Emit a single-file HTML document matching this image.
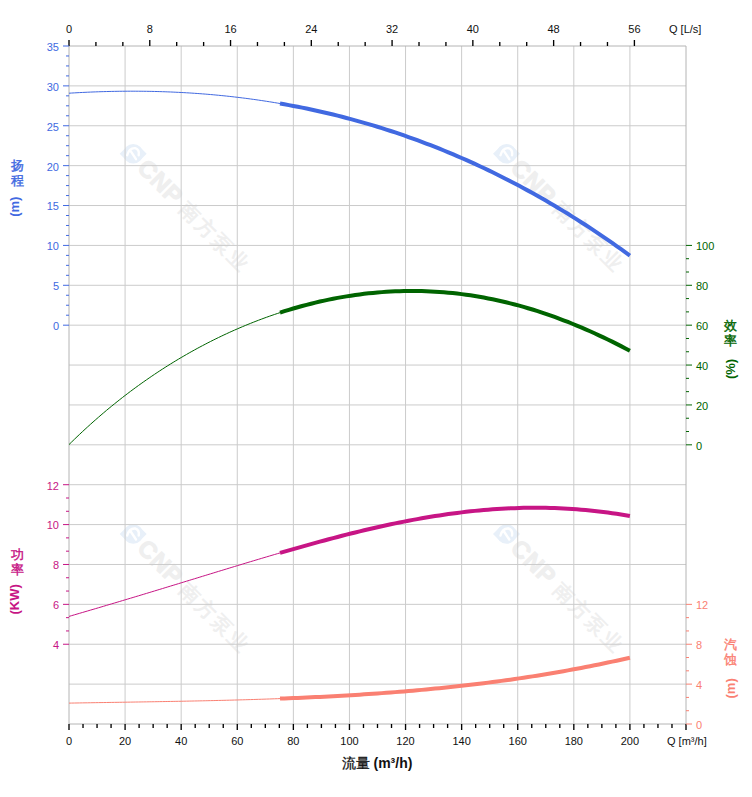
<!DOCTYPE html>
<html><head><meta charset="utf-8"><style>
html,body{margin:0;padding:0;background:#fff;}
body{width:752px;height:797px;overflow:hidden;}
svg{display:block;}
text{font-family:"Liberation Sans",sans-serif;}
</style></head><body>
<svg width="752" height="797" viewBox="0 0 752 797">
<rect width="752" height="797" fill="#fff"/>

<g transform="translate(133.2,153.7)"><circle r="9.8" fill="#e8f0f9"/><path d="M-13.5,0 L-7,-6.5 L7,-6.5 L13.5,0 L7,6.5 L-7,6.5Z" fill="#e8f0f9"/><path d="M-6,1.5 Q-4,-6 2,-5.5 Q6.5,-4 5.5,1.5 M-2.5,-2.5 L2.8,5.5" fill="none" stroke="#fff" stroke-width="2.4" stroke-linecap="round"/><g transform="rotate(45)"><text x="13" y="9" font-size="24" font-weight="bold" fill="#efefef" stroke="#efefef" stroke-width="1" letter-spacing="0.5">CNP</text><text x="72" y="8" font-size="20" fill="#efefef" stroke="#efefef" stroke-width="0.7" letter-spacing="2.6">南方泵业</text></g></g>
<g transform="translate(506.5,153.7)"><circle r="9.8" fill="#e8f0f9"/><path d="M-13.5,0 L-7,-6.5 L7,-6.5 L13.5,0 L7,6.5 L-7,6.5Z" fill="#e8f0f9"/><path d="M-6,1.5 Q-4,-6 2,-5.5 Q6.5,-4 5.5,1.5 M-2.5,-2.5 L2.8,5.5" fill="none" stroke="#fff" stroke-width="2.4" stroke-linecap="round"/><g transform="rotate(45)"><text x="13" y="9" font-size="24" font-weight="bold" fill="#efefef" stroke="#efefef" stroke-width="1" letter-spacing="0.5">CNP</text><text x="72" y="8" font-size="20" fill="#efefef" stroke="#efefef" stroke-width="0.7" letter-spacing="2.6">南方泵业</text></g></g>
<g transform="translate(133.2,534)"><circle r="9.8" fill="#e8f0f9"/><path d="M-13.5,0 L-7,-6.5 L7,-6.5 L13.5,0 L7,6.5 L-7,6.5Z" fill="#e8f0f9"/><path d="M-6,1.5 Q-4,-6 2,-5.5 Q6.5,-4 5.5,1.5 M-2.5,-2.5 L2.8,5.5" fill="none" stroke="#fff" stroke-width="2.4" stroke-linecap="round"/><g transform="rotate(45)"><text x="13" y="9" font-size="24" font-weight="bold" fill="#efefef" stroke="#efefef" stroke-width="1" letter-spacing="0.5">CNP</text><text x="72" y="8" font-size="20" fill="#efefef" stroke="#efefef" stroke-width="0.7" letter-spacing="2.6">南方泵业</text></g></g>
<g transform="translate(506.5,534)"><circle r="9.8" fill="#e8f0f9"/><path d="M-13.5,0 L-7,-6.5 L7,-6.5 L13.5,0 L7,6.5 L-7,6.5Z" fill="#e8f0f9"/><path d="M-6,1.5 Q-4,-6 2,-5.5 Q6.5,-4 5.5,1.5 M-2.5,-2.5 L2.8,5.5" fill="none" stroke="#fff" stroke-width="2.4" stroke-linecap="round"/><g transform="rotate(45)"><text x="13" y="9" font-size="24" font-weight="bold" fill="#efefef" stroke="#efefef" stroke-width="1" letter-spacing="0.5">CNP</text><text x="72" y="8" font-size="20" fill="#efefef" stroke="#efefef" stroke-width="0.7" letter-spacing="2.6">南方泵业</text></g></g>
<g stroke="#cbcbcb" stroke-width="1"><line x1="69.0" y1="85.88" x2="686.0" y2="85.88"/><line x1="69.0" y1="125.76" x2="686.0" y2="125.76"/><line x1="69.0" y1="165.65" x2="686.0" y2="165.65"/><line x1="69.0" y1="205.53" x2="686.0" y2="205.53"/><line x1="69.0" y1="245.41" x2="686.0" y2="245.41"/><line x1="69.0" y1="285.29" x2="686.0" y2="285.29"/><line x1="69.0" y1="325.18" x2="686.0" y2="325.18"/><line x1="69.0" y1="365.06" x2="686.0" y2="365.06"/><line x1="69.0" y1="404.94" x2="686.0" y2="404.94"/><line x1="69.0" y1="444.82" x2="686.0" y2="444.82"/><line x1="69.0" y1="484.71" x2="686.0" y2="484.71"/><line x1="69.0" y1="524.59" x2="686.0" y2="524.59"/><line x1="69.0" y1="564.47" x2="686.0" y2="564.47"/><line x1="69.0" y1="604.35" x2="686.0" y2="604.35"/><line x1="69.0" y1="644.24" x2="686.0" y2="644.24"/><line x1="69.0" y1="684.12" x2="686.0" y2="684.12"/><line x1="125.09" y1="46.0" x2="125.09" y2="724.0"/><line x1="181.18" y1="46.0" x2="181.18" y2="724.0"/><line x1="237.27" y1="46.0" x2="237.27" y2="724.0"/><line x1="293.36" y1="46.0" x2="293.36" y2="724.0"/><line x1="349.45" y1="46.0" x2="349.45" y2="724.0"/><line x1="405.55" y1="46.0" x2="405.55" y2="724.0"/><line x1="461.64" y1="46.0" x2="461.64" y2="724.0"/><line x1="517.73" y1="46.0" x2="517.73" y2="724.0"/><line x1="573.82" y1="46.0" x2="573.82" y2="724.0"/><line x1="629.91" y1="46.0" x2="629.91" y2="724.0"/></g>
<g stroke="#b4b4b4" stroke-width="1"><line x1="69.0" y1="46.00" x2="686.0" y2="46.00"/><line x1="69.0" y1="724.00" x2="686.0" y2="724.00"/><line x1="69.00" y1="46.0" x2="69.00" y2="724.0"/><line x1="686.00" y1="46.0" x2="686.00" y2="724.0"/></g>
<g stroke="#000" stroke-width="1.35"><line x1="69.00" y1="40.0" x2="69.00" y2="46.0"/><line x1="95.92" y1="42.0" x2="95.92" y2="46.0"/><line x1="122.85" y1="42.0" x2="122.85" y2="46.0"/><line x1="149.77" y1="40.0" x2="149.77" y2="46.0"/><line x1="176.69" y1="42.0" x2="176.69" y2="46.0"/><line x1="203.62" y1="42.0" x2="203.62" y2="46.0"/><line x1="230.54" y1="40.0" x2="230.54" y2="46.0"/><line x1="257.47" y1="42.0" x2="257.47" y2="46.0"/><line x1="284.39" y1="42.0" x2="284.39" y2="46.0"/><line x1="311.31" y1="40.0" x2="311.31" y2="46.0"/><line x1="338.24" y1="42.0" x2="338.24" y2="46.0"/><line x1="365.16" y1="42.0" x2="365.16" y2="46.0"/><line x1="392.08" y1="40.0" x2="392.08" y2="46.0"/><line x1="419.01" y1="42.0" x2="419.01" y2="46.0"/><line x1="445.93" y1="42.0" x2="445.93" y2="46.0"/><line x1="472.85" y1="40.0" x2="472.85" y2="46.0"/><line x1="499.78" y1="42.0" x2="499.78" y2="46.0"/><line x1="526.70" y1="42.0" x2="526.70" y2="46.0"/><line x1="553.63" y1="40.0" x2="553.63" y2="46.0"/><line x1="580.55" y1="42.0" x2="580.55" y2="46.0"/><line x1="607.47" y1="42.0" x2="607.47" y2="46.0"/><line x1="634.40" y1="40.0" x2="634.40" y2="46.0"/></g>
<g stroke="#000" stroke-width="1.35"><line x1="69.00" y1="724.0" x2="69.00" y2="730.0"/><line x1="83.02" y1="724.0" x2="83.02" y2="728.0"/><line x1="97.05" y1="724.0" x2="97.05" y2="728.0"/><line x1="111.07" y1="724.0" x2="111.07" y2="728.0"/><line x1="125.09" y1="724.0" x2="125.09" y2="730.0"/><line x1="139.11" y1="724.0" x2="139.11" y2="728.0"/><line x1="153.14" y1="724.0" x2="153.14" y2="728.0"/><line x1="167.16" y1="724.0" x2="167.16" y2="728.0"/><line x1="181.18" y1="724.0" x2="181.18" y2="730.0"/><line x1="195.20" y1="724.0" x2="195.20" y2="728.0"/><line x1="209.23" y1="724.0" x2="209.23" y2="728.0"/><line x1="223.25" y1="724.0" x2="223.25" y2="728.0"/><line x1="237.27" y1="724.0" x2="237.27" y2="730.0"/><line x1="251.30" y1="724.0" x2="251.30" y2="728.0"/><line x1="265.32" y1="724.0" x2="265.32" y2="728.0"/><line x1="279.34" y1="724.0" x2="279.34" y2="728.0"/><line x1="293.36" y1="724.0" x2="293.36" y2="730.0"/><line x1="307.39" y1="724.0" x2="307.39" y2="728.0"/><line x1="321.41" y1="724.0" x2="321.41" y2="728.0"/><line x1="335.43" y1="724.0" x2="335.43" y2="728.0"/><line x1="349.45" y1="724.0" x2="349.45" y2="730.0"/><line x1="363.48" y1="724.0" x2="363.48" y2="728.0"/><line x1="377.50" y1="724.0" x2="377.50" y2="728.0"/><line x1="391.52" y1="724.0" x2="391.52" y2="728.0"/><line x1="405.55" y1="724.0" x2="405.55" y2="730.0"/><line x1="419.57" y1="724.0" x2="419.57" y2="728.0"/><line x1="433.59" y1="724.0" x2="433.59" y2="728.0"/><line x1="447.61" y1="724.0" x2="447.61" y2="728.0"/><line x1="461.64" y1="724.0" x2="461.64" y2="730.0"/><line x1="475.66" y1="724.0" x2="475.66" y2="728.0"/><line x1="489.68" y1="724.0" x2="489.68" y2="728.0"/><line x1="503.70" y1="724.0" x2="503.70" y2="728.0"/><line x1="517.73" y1="724.0" x2="517.73" y2="730.0"/><line x1="531.75" y1="724.0" x2="531.75" y2="728.0"/><line x1="545.77" y1="724.0" x2="545.77" y2="728.0"/><line x1="559.80" y1="724.0" x2="559.80" y2="728.0"/><line x1="573.82" y1="724.0" x2="573.82" y2="730.0"/><line x1="587.84" y1="724.0" x2="587.84" y2="728.0"/><line x1="601.86" y1="724.0" x2="601.86" y2="728.0"/><line x1="615.89" y1="724.0" x2="615.89" y2="728.0"/><line x1="629.91" y1="724.0" x2="629.91" y2="730.0"/><line x1="643.93" y1="724.0" x2="643.93" y2="728.0"/><line x1="657.95" y1="724.0" x2="657.95" y2="728.0"/><line x1="671.98" y1="724.0" x2="671.98" y2="728.0"/><line x1="686.00" y1="724.0" x2="686.00" y2="730.0"/></g>
<g stroke="#4169e1" stroke-width="1"><line x1="63.0" y1="325.18" x2="69.0" y2="325.18"/><line x1="66.0" y1="315.21" x2="69.0" y2="315.21"/><line x1="66.0" y1="305.24" x2="69.0" y2="305.24"/><line x1="66.0" y1="295.26" x2="69.0" y2="295.26"/><line x1="63.0" y1="285.29" x2="69.0" y2="285.29"/><line x1="66.0" y1="275.32" x2="69.0" y2="275.32"/><line x1="66.0" y1="265.35" x2="69.0" y2="265.35"/><line x1="66.0" y1="255.38" x2="69.0" y2="255.38"/><line x1="63.0" y1="245.41" x2="69.0" y2="245.41"/><line x1="66.0" y1="235.44" x2="69.0" y2="235.44"/><line x1="66.0" y1="225.47" x2="69.0" y2="225.47"/><line x1="66.0" y1="215.50" x2="69.0" y2="215.50"/><line x1="63.0" y1="205.53" x2="69.0" y2="205.53"/><line x1="66.0" y1="195.56" x2="69.0" y2="195.56"/><line x1="66.0" y1="185.59" x2="69.0" y2="185.59"/><line x1="66.0" y1="175.62" x2="69.0" y2="175.62"/><line x1="63.0" y1="165.65" x2="69.0" y2="165.65"/><line x1="66.0" y1="155.68" x2="69.0" y2="155.68"/><line x1="66.0" y1="145.71" x2="69.0" y2="145.71"/><line x1="66.0" y1="135.74" x2="69.0" y2="135.74"/><line x1="63.0" y1="125.76" x2="69.0" y2="125.76"/><line x1="66.0" y1="115.79" x2="69.0" y2="115.79"/><line x1="66.0" y1="105.82" x2="69.0" y2="105.82"/><line x1="66.0" y1="95.85" x2="69.0" y2="95.85"/><line x1="63.0" y1="85.88" x2="69.0" y2="85.88"/><line x1="66.0" y1="75.91" x2="69.0" y2="75.91"/><line x1="66.0" y1="65.94" x2="69.0" y2="65.94"/><line x1="66.0" y1="55.97" x2="69.0" y2="55.97"/><line x1="63.0" y1="46.00" x2="69.0" y2="46.00"/></g>
<g stroke="#c71585" stroke-width="1"><line x1="63.0" y1="484.71" x2="69.0" y2="484.71"/><line x1="66.0" y1="498.00" x2="69.0" y2="498.00"/><line x1="66.0" y1="511.29" x2="69.0" y2="511.29"/><line x1="63.0" y1="524.59" x2="69.0" y2="524.59"/><line x1="66.0" y1="537.88" x2="69.0" y2="537.88"/><line x1="66.0" y1="551.18" x2="69.0" y2="551.18"/><line x1="63.0" y1="564.47" x2="69.0" y2="564.47"/><line x1="66.0" y1="577.76" x2="69.0" y2="577.76"/><line x1="66.0" y1="591.06" x2="69.0" y2="591.06"/><line x1="63.0" y1="604.35" x2="69.0" y2="604.35"/><line x1="66.0" y1="617.65" x2="69.0" y2="617.65"/><line x1="66.0" y1="630.94" x2="69.0" y2="630.94"/><line x1="63.0" y1="644.24" x2="69.0" y2="644.24"/></g>
<g stroke="#006400" stroke-width="1"><line x1="686.0" y1="245.41" x2="692.0" y2="245.41"/><line x1="686.0" y1="258.71" x2="689.0" y2="258.71"/><line x1="686.0" y1="272.00" x2="689.0" y2="272.00"/><line x1="686.0" y1="285.29" x2="692.0" y2="285.29"/><line x1="686.0" y1="298.59" x2="689.0" y2="298.59"/><line x1="686.0" y1="311.88" x2="689.0" y2="311.88"/><line x1="686.0" y1="325.18" x2="692.0" y2="325.18"/><line x1="686.0" y1="338.47" x2="689.0" y2="338.47"/><line x1="686.0" y1="351.76" x2="689.0" y2="351.76"/><line x1="686.0" y1="365.06" x2="692.0" y2="365.06"/><line x1="686.0" y1="378.35" x2="689.0" y2="378.35"/><line x1="686.0" y1="391.65" x2="689.0" y2="391.65"/><line x1="686.0" y1="404.94" x2="692.0" y2="404.94"/><line x1="686.0" y1="418.24" x2="689.0" y2="418.24"/><line x1="686.0" y1="431.53" x2="689.0" y2="431.53"/><line x1="686.0" y1="444.82" x2="692.0" y2="444.82"/></g>
<g stroke="#fa8072" stroke-width="1"><line x1="686.0" y1="604.35" x2="692.0" y2="604.35"/><line x1="686.0" y1="617.65" x2="689.0" y2="617.65"/><line x1="686.0" y1="630.94" x2="689.0" y2="630.94"/><line x1="686.0" y1="644.24" x2="692.0" y2="644.24"/><line x1="686.0" y1="657.53" x2="689.0" y2="657.53"/><line x1="686.0" y1="670.82" x2="689.0" y2="670.82"/><line x1="686.0" y1="684.12" x2="692.0" y2="684.12"/><line x1="686.0" y1="697.41" x2="689.0" y2="697.41"/><line x1="686.0" y1="710.71" x2="689.0" y2="710.71"/><line x1="686.0" y1="724.00" x2="692.0" y2="724.00"/></g>
<g font-size="11" fill="#111"><text x="69.00" y="33" text-anchor="middle">0</text><text x="149.77" y="33" text-anchor="middle">8</text><text x="230.54" y="33" text-anchor="middle">16</text><text x="311.31" y="33" text-anchor="middle">24</text><text x="392.08" y="33" text-anchor="middle">32</text><text x="472.85" y="33" text-anchor="middle">40</text><text x="553.63" y="33" text-anchor="middle">48</text><text x="634.40" y="33" text-anchor="middle">56</text><text x="669" y="33">Q [L/s]</text><text x="69.00" y="745" text-anchor="middle">0</text><text x="125.09" y="745" text-anchor="middle">20</text><text x="181.18" y="745" text-anchor="middle">40</text><text x="237.27" y="745" text-anchor="middle">60</text><text x="293.36" y="745" text-anchor="middle">80</text><text x="349.45" y="745" text-anchor="middle">100</text><text x="405.55" y="745" text-anchor="middle">120</text><text x="461.64" y="745" text-anchor="middle">140</text><text x="517.73" y="745" text-anchor="middle">160</text><text x="573.82" y="745" text-anchor="middle">180</text><text x="629.91" y="745" text-anchor="middle">200</text><text x="667" y="745">Q [m³/h]</text></g>
<g font-size="11" fill="#4169e1" text-anchor="end"><text x="59" y="51">35</text><text x="59" y="91">30</text><text x="59" y="131">25</text><text x="59" y="171">20</text><text x="59" y="210">15</text><text x="59" y="250">10</text><text x="59" y="290">5</text><text x="59" y="330">0</text></g>
<g font-size="11" fill="#c71585" text-anchor="end"><text x="59" y="490">12</text><text x="59" y="529">10</text><text x="59" y="569">8</text><text x="59" y="609">6</text><text x="59" y="649">4</text></g>
<g font-size="11" fill="#006400" text-anchor="start"><text x="696" y="250">100</text><text x="696" y="290">80</text><text x="696" y="330">60</text><text x="696" y="370">40</text><text x="696" y="410">20</text><text x="696" y="450">0</text></g>
<g font-size="11" fill="#fa8072" text-anchor="start"><text x="696" y="609">12</text><text x="696" y="649">8</text><text x="696" y="689">4</text><text x="696" y="729">0</text></g>
<path d="M69.00,93.21 L71.67,93.04 L74.34,92.89 L77.01,92.74 L79.68,92.59 L82.35,92.46 L85.03,92.33 L87.70,92.21 L90.37,92.09 L93.04,91.98 L95.71,91.88 L98.38,91.78 L101.05,91.70 L103.72,91.62 L106.39,91.54 L109.06,91.48 L111.73,91.42 L114.41,91.36 L117.08,91.32 L119.75,91.28 L122.42,91.25 L125.09,91.23 L127.76,91.21 L130.43,91.20 L133.10,91.20 L135.77,91.21 L138.44,91.22 L141.11,91.24 L143.78,91.27 L146.46,91.31 L149.13,91.35 L151.80,91.40 L154.47,91.46 L157.14,91.53 L159.81,91.60 L162.48,91.69 L165.15,91.78 L167.82,91.88 L170.49,91.98 L173.16,92.10 L175.84,92.22 L178.51,92.35 L181.18,92.49 L183.85,92.63 L186.52,92.79 L189.19,92.95 L191.86,93.12 L194.53,93.30 L197.20,93.48 L199.87,93.68 L202.54,93.88 L205.22,94.09 L207.89,94.31 L210.56,94.54 L213.23,94.78 L215.90,95.02 L218.57,95.27 L221.24,95.54 L223.91,95.81 L226.58,96.09 L229.25,96.37 L231.92,96.67 L234.59,96.97 L237.27,97.29 L239.94,97.61 L242.61,97.94 L245.28,98.28 L247.95,98.63 L250.62,98.99 L253.29,99.35 L255.96,99.73 L258.63,100.11 L261.30,100.51 L263.97,100.91 L266.65,101.32 L269.32,101.74 L271.99,102.17 L274.66,102.61 L277.33,103.06 L280.00,103.51" fill="none" stroke="#4169e1" stroke-width="1"/>
<path d="M280.00,103.51 L284.43,104.29 L288.86,105.10 L293.29,105.93 L297.72,106.78 L302.15,107.66 L306.57,108.57 L311.00,109.50 L315.43,110.46 L319.86,111.45 L324.29,112.47 L328.72,113.51 L333.15,114.57 L337.58,115.67 L342.01,116.79 L346.44,117.94 L350.87,119.12 L355.29,120.32 L359.72,121.56 L364.15,122.82 L368.58,124.11 L373.01,125.43 L377.44,126.77 L381.87,128.15 L386.30,129.55 L390.73,130.99 L395.16,132.45 L399.59,133.94 L404.02,135.46 L408.44,137.02 L412.87,138.60 L417.30,140.21 L421.73,141.85 L426.16,143.52 L430.59,145.22 L435.02,146.95 L439.45,148.71 L443.88,150.51 L448.31,152.33 L452.74,154.19 L457.16,156.07 L461.59,157.99 L466.02,159.94 L470.45,161.92 L474.88,163.94 L479.31,165.98 L483.74,168.06 L488.17,170.17 L492.60,172.31 L497.03,174.48 L501.46,176.69 L505.88,178.93 L510.31,181.21 L514.74,183.51 L519.17,185.85 L523.60,188.23 L528.03,190.63 L532.46,193.07 L536.89,195.55 L541.32,198.06 L545.75,200.60 L550.18,203.18 L554.61,205.79 L559.03,208.44 L563.46,211.12 L567.89,213.83 L572.32,216.59 L576.75,219.37 L581.18,222.20 L585.61,225.05 L590.04,227.95 L594.47,230.88 L598.90,233.84 L603.33,236.84 L607.75,239.88 L612.18,242.96 L616.61,246.07 L621.04,249.22 L625.47,252.40 L629.90,255.62" fill="none" stroke="#4169e1" stroke-width="4"/>
<path d="M69.00,444.59 L71.67,441.96 L74.34,439.36 L77.01,436.79 L79.68,434.25 L82.35,431.74 L85.03,429.27 L87.70,426.82 L90.37,424.40 L93.04,422.01 L95.71,419.65 L98.38,417.32 L101.05,415.01 L103.72,412.73 L106.39,410.48 L109.06,408.26 L111.73,406.06 L114.41,403.90 L117.08,401.75 L119.75,399.64 L122.42,397.54 L125.09,395.48 L127.76,393.44 L130.43,391.42 L133.10,389.43 L135.77,387.46 L138.44,385.52 L141.11,383.60 L143.78,381.71 L146.46,379.83 L149.13,377.99 L151.80,376.16 L154.47,374.36 L157.14,372.58 L159.81,370.82 L162.48,369.09 L165.15,367.37 L167.82,365.68 L170.49,364.01 L173.16,362.37 L175.84,360.74 L178.51,359.13 L181.18,357.55 L183.85,355.99 L186.52,354.45 L189.19,352.92 L191.86,351.42 L194.53,349.94 L197.20,348.48 L199.87,347.04 L202.54,345.62 L205.22,344.22 L207.89,342.84 L210.56,341.47 L213.23,340.13 L215.90,338.81 L218.57,337.50 L221.24,336.22 L223.91,334.95 L226.58,333.71 L229.25,332.48 L231.92,331.27 L234.59,330.08 L237.27,328.91 L239.94,327.76 L242.61,326.62 L245.28,325.50 L247.95,324.41 L250.62,323.33 L253.29,322.27 L255.96,321.22 L258.63,320.20 L261.30,319.19 L263.97,318.20 L266.65,317.23 L269.32,316.28 L271.99,315.34 L274.66,314.42 L277.33,313.52 L280.00,312.64" fill="none" stroke="#006400" stroke-width="1"/>
<path d="M280.00,312.64 L284.43,311.22 L288.86,309.84 L293.29,308.52 L297.72,307.24 L302.15,306.01 L306.57,304.83 L311.00,303.69 L315.43,302.61 L319.86,301.57 L324.29,300.58 L328.72,299.64 L333.15,298.75 L337.58,297.90 L342.01,297.11 L346.44,296.36 L350.87,295.66 L355.29,295.01 L359.72,294.41 L364.15,293.85 L368.58,293.35 L373.01,292.89 L377.44,292.49 L381.87,292.13 L386.30,291.82 L390.73,291.56 L395.16,291.34 L399.59,291.18 L404.02,291.07 L408.44,291.00 L412.87,290.99 L417.30,291.03 L421.73,291.11 L426.16,291.25 L430.59,291.43 L435.02,291.67 L439.45,291.95 L443.88,292.29 L448.31,292.67 L452.74,293.11 L457.16,293.59 L461.59,294.13 L466.02,294.72 L470.45,295.35 L474.88,296.04 L479.31,296.78 L483.74,297.57 L488.17,298.41 L492.60,299.29 L497.03,300.23 L501.46,301.22 L505.88,302.26 L510.31,303.35 L514.74,304.49 L519.17,305.68 L523.60,306.92 L528.03,308.21 L532.46,309.54 L536.89,310.93 L541.32,312.36 L545.75,313.85 L550.18,315.38 L554.61,316.96 L559.03,318.59 L563.46,320.26 L567.89,321.98 L572.32,323.75 L576.75,325.56 L581.18,327.42 L585.61,329.33 L590.04,331.28 L594.47,333.27 L598.90,335.31 L603.33,337.39 L607.75,339.51 L612.18,341.67 L616.61,343.88 L621.04,346.12 L625.47,348.41 L629.90,350.73" fill="none" stroke="#006400" stroke-width="4"/>
<path d="M69.00,616.41 L71.67,615.63 L74.34,614.85 L77.01,614.07 L79.68,613.29 L82.35,612.51 L85.03,611.72 L87.70,610.94 L90.37,610.15 L93.04,609.37 L95.71,608.58 L98.38,607.79 L101.05,607.00 L103.72,606.21 L106.39,605.42 L109.06,604.62 L111.73,603.83 L114.41,603.04 L117.08,602.24 L119.75,601.44 L122.42,600.64 L125.09,599.84 L127.76,599.04 L130.43,598.24 L133.10,597.44 L135.77,596.64 L138.44,595.83 L141.11,595.03 L143.78,594.22 L146.46,593.41 L149.13,592.60 L151.80,591.79 L154.47,590.98 L157.14,590.17 L159.81,589.36 L162.48,588.55 L165.15,587.73 L167.82,586.92 L170.49,586.10 L173.16,585.29 L175.84,584.47 L178.51,583.65 L181.18,582.84 L183.85,582.02 L186.52,581.20 L189.19,580.38 L191.86,579.56 L194.53,578.75 L197.20,577.93 L199.87,577.11 L202.54,576.29 L205.22,575.47 L207.89,574.65 L210.56,573.84 L213.23,573.02 L215.90,572.20 L218.57,571.38 L221.24,570.57 L223.91,569.75 L226.58,568.94 L229.25,568.12 L231.92,567.31 L234.59,566.50 L237.27,565.69 L239.94,564.88 L242.61,564.07 L245.28,563.26 L247.95,562.45 L250.62,561.65 L253.29,560.85 L255.96,560.04 L258.63,559.25 L261.30,558.45 L263.97,557.65 L266.65,556.86 L269.32,556.07 L271.99,555.28 L274.66,554.49 L277.33,553.71 L280.00,552.93" fill="none" stroke="#c71585" stroke-width="1"/>
<path d="M280.00,552.93 L284.43,551.64 L288.86,550.36 L293.29,549.09 L297.72,547.82 L302.15,546.57 L306.57,545.32 L311.00,544.09 L315.43,542.87 L319.86,541.66 L324.29,540.46 L328.72,539.28 L333.15,538.11 L337.58,536.95 L342.01,535.80 L346.44,534.68 L350.87,533.56 L355.29,532.47 L359.72,531.38 L364.15,530.32 L368.58,529.28 L373.01,528.25 L377.44,527.24 L381.87,526.25 L386.30,525.28 L390.73,524.33 L395.16,523.40 L399.59,522.50 L404.02,521.61 L408.44,520.75 L412.87,519.91 L417.30,519.10 L421.73,518.31 L426.16,517.54 L430.59,516.80 L435.02,516.09 L439.45,515.40 L443.88,514.73 L448.31,514.10 L452.74,513.49 L457.16,512.91 L461.59,512.36 L466.02,511.84 L470.45,511.34 L474.88,510.88 L479.31,510.45 L483.74,510.05 L488.17,509.68 L492.60,509.34 L497.03,509.03 L501.46,508.75 L505.88,508.51 L510.31,508.30 L514.74,508.13 L519.17,507.98 L523.60,507.87 L528.03,507.80 L532.46,507.76 L536.89,507.75 L541.32,507.78 L545.75,507.85 L550.18,507.95 L554.61,508.09 L559.03,508.26 L563.46,508.47 L567.89,508.71 L572.32,508.99 L576.75,509.31 L581.18,509.66 L585.61,510.05 L590.04,510.48 L594.47,510.94 L598.90,511.44 L603.33,511.98 L607.75,512.55 L612.18,513.16 L616.61,513.81 L621.04,514.49 L625.47,515.21 L629.90,515.97" fill="none" stroke="#c71585" stroke-width="4"/>
<path d="M69.00,703.11 L71.67,703.07 L74.34,703.02 L77.01,702.97 L79.68,702.93 L82.35,702.88 L85.03,702.84 L87.70,702.80 L90.37,702.75 L93.04,702.71 L95.71,702.67 L98.38,702.62 L101.05,702.58 L103.72,702.54 L106.39,702.50 L109.06,702.45 L111.73,702.41 L114.41,702.37 L117.08,702.33 L119.75,702.29 L122.42,702.24 L125.09,702.20 L127.76,702.16 L130.43,702.12 L133.10,702.07 L135.77,702.03 L138.44,701.99 L141.11,701.95 L143.78,701.90 L146.46,701.86 L149.13,701.81 L151.80,701.77 L154.47,701.73 L157.14,701.68 L159.81,701.63 L162.48,701.59 L165.15,701.54 L167.82,701.49 L170.49,701.45 L173.16,701.40 L175.84,701.35 L178.51,701.30 L181.18,701.25 L183.85,701.20 L186.52,701.15 L189.19,701.09 L191.86,701.04 L194.53,700.98 L197.20,700.93 L199.87,700.87 L202.54,700.82 L205.22,700.76 L207.89,700.70 L210.56,700.64 L213.23,700.58 L215.90,700.51 L218.57,700.45 L221.24,700.38 L223.91,700.32 L226.58,700.25 L229.25,700.18 L231.92,700.11 L234.59,700.04 L237.27,699.97 L239.94,699.89 L242.61,699.82 L245.28,699.74 L247.95,699.66 L250.62,699.58 L253.29,699.50 L255.96,699.42 L258.63,699.33 L261.30,699.25 L263.97,699.16 L266.65,699.07 L269.32,698.98 L271.99,698.88 L274.66,698.79 L277.33,698.69 L280.00,698.59" fill="none" stroke="#fa8072" stroke-width="1"/>
<path d="M280.00,698.59 L284.43,698.43 L288.86,698.25 L293.29,698.07 L297.72,697.89 L302.15,697.70 L306.57,697.50 L311.00,697.30 L315.43,697.09 L319.86,696.88 L324.29,696.66 L328.72,696.43 L333.15,696.20 L337.58,695.95 L342.01,695.71 L346.44,695.45 L350.87,695.19 L355.29,694.92 L359.72,694.64 L364.15,694.35 L368.58,694.06 L373.01,693.76 L377.44,693.45 L381.87,693.13 L386.30,692.80 L390.73,692.47 L395.16,692.13 L399.59,691.77 L404.02,691.41 L408.44,691.04 L412.87,690.66 L417.30,690.27 L421.73,689.87 L426.16,689.46 L430.59,689.04 L435.02,688.61 L439.45,688.18 L443.88,687.73 L448.31,687.27 L452.74,686.80 L457.16,686.32 L461.59,685.82 L466.02,685.32 L470.45,684.81 L474.88,684.28 L479.31,683.75 L483.74,683.20 L488.17,682.64 L492.60,682.07 L497.03,681.48 L501.46,680.89 L505.88,680.28 L510.31,679.66 L514.74,679.03 L519.17,678.38 L523.60,677.72 L528.03,677.05 L532.46,676.36 L536.89,675.67 L541.32,674.96 L545.75,674.23 L550.18,673.49 L554.61,672.74 L559.03,671.97 L563.46,671.19 L567.89,670.40 L572.32,669.59 L576.75,668.77 L581.18,667.93 L585.61,667.08 L590.04,666.21 L594.47,665.32 L598.90,664.43 L603.33,663.51 L607.75,662.58 L612.18,661.64 L616.61,660.68 L621.04,659.70 L625.47,658.71 L629.90,657.70" fill="none" stroke="#fa8072" stroke-width="4"/>
<g font-size="13" fill="#4169e1" stroke="#4169e1" stroke-width="0.4"><text x="17" y="170" text-anchor="middle">扬</text><text x="17" y="185" text-anchor="middle">程</text><text transform="translate(19.0,206.7) rotate(-90)" text-anchor="middle" font-weight="bold" stroke="none">(m)</text></g>
<g font-size="13" fill="#c71585" stroke="#c71585" stroke-width="0.4"><text x="17" y="559" text-anchor="middle">功</text><text x="17" y="574" text-anchor="middle">率</text><text transform="translate(19.0,599.4) rotate(-90)" text-anchor="middle" font-weight="bold" stroke="none">(KW)</text></g>
<g font-size="13" fill="#006400" stroke="#006400" stroke-width="0.4"><text x="730" y="330" text-anchor="middle">效</text><text x="730" y="345" text-anchor="middle">率</text><text transform="translate(735.0,369.0) rotate(-90)" text-anchor="middle" font-weight="bold" stroke="none">(%)</text></g>
<g font-size="13" fill="#fa8072" stroke="#fa8072" stroke-width="0.4"><text x="730" y="649" text-anchor="middle">汽</text><text x="730" y="664" text-anchor="middle">蚀</text><text transform="translate(735.0,688.4) rotate(-90)" text-anchor="middle" font-weight="bold" stroke="none">(m)</text></g>
<text x="377" y="768" font-size="14" font-weight="bold" fill="#111" text-anchor="middle"><tspan font-weight="normal" stroke="#111" stroke-width="0.3">流量</tspan> (m³/h)</text>
</svg></body></html>
